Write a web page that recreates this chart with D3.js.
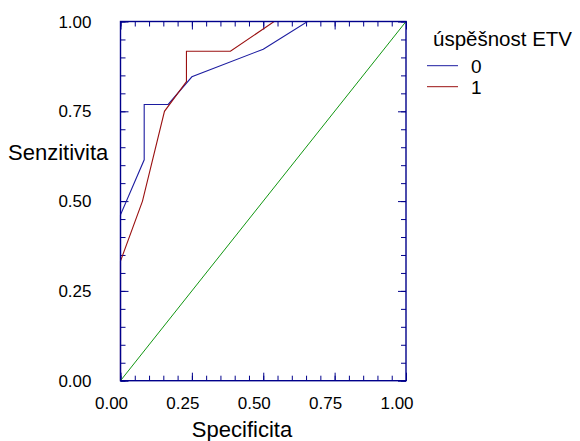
<!DOCTYPE html>
<html>
<head>
<meta charset="utf-8">
<script src="https://cdn.jsdelivr.net/npm/d3@7"></script>
<style>
  body { margin: 0; background: #fff; }
  svg { display: block; font-family: "Liberation Sans", Arial, sans-serif; }
</style>
</head>
<body>
<svg id="chart" width="580" height="441"></svg>
<script>
// ROC curves for two groups plus the reference diagonal
const specGroup0 = [0, 0, 0.083, 0.083, 0.167, 0.25, 0.5, 0.655, 1];
const sensGroup0 = [0, 0.462, 0.615, 0.769, 0.769, 0.846, 0.923, 1, 1];
const specGroup1 = [0, 0, 0.077, 0.154, 0.231, 0.231, 0.385, 0.538, 1];
const sensGroup1 = [0, 0.333, 0.5, 0.75, 0.833, 0.917, 0.917, 1, 1];
const diagonal = [0, 1];
const seriesNames = ['0', '1'];
const tickLabels = [0, 0.25, 0.5, 0.75, 1];

const frameColor = '#00008b';
const colors = ['#1c1ca0', '#9a1010'];
const diagColor = '#119611';

const plotLeft = 120.5, plotRight = 406, plotTop = 21.5, plotBottom = 380.7;

const svg = d3.select('#chart');

const x = d3.scaleLinear().domain([0, 1]).range([plotLeft, plotRight]);
const y = d3.scaleLinear().domain([0, 1]).range([plotBottom, plotTop]);

const minorTicks = d3.range(0, 21).map(i => i / 20);
const majorTicks = tickLabels;

// inward ticks on all four sides
function tickAxis(axisFn, scale, values, size, transform) {
    svg.append('g')
        .attr('transform', transform)
        .call(axisFn(scale).tickValues(values).tickSize(-size).tickFormat('').tickSizeOuter(0))
        .call(g => g.select('.domain').remove())
        .call(g => g.selectAll('line').attr('stroke', frameColor).attr('stroke-width', 1));
}
tickAxis(d3.axisBottom, x, minorTicks, 5, `translate(0,${plotBottom})`);
tickAxis(d3.axisBottom, x, majorTicks, 8, `translate(0,${plotBottom})`);
tickAxis(d3.axisTop, x, minorTicks, 5, `translate(0,${plotTop})`);
tickAxis(d3.axisTop, x, majorTicks, 8, `translate(0,${plotTop})`);
tickAxis(d3.axisLeft, y, minorTicks, 5, `translate(${plotLeft},0)`);
tickAxis(d3.axisLeft, y, majorTicks, 8, `translate(${plotLeft},0)`);
tickAxis(d3.axisRight, y, minorTicks, 5, `translate(${plotRight},0)`);
tickAxis(d3.axisRight, y, majorTicks, 8, `translate(${plotRight},0)`);

// tick labels
const fmt = d3.format('.2f');
svg.append('g')
    .selectAll('text')
    .data(tickLabels)
    .enter()
    .append('text')
    .attr('x', d => x(d) - 9)
    .attr('y', 409)
    .attr('text-anchor', 'middle')
    .attr('font-size', '17px')
    .attr('fill', '#000')
    .text(fmt);

svg.append('g')
    .selectAll('text')
    .data(tickLabels)
    .enter()
    .append('text')
    .attr('x', 91.5)
    .attr('y', d => y(d) + 6)
    .attr('text-anchor', 'end')
    .attr('font-size', '17px')
    .attr('fill', '#000')
    .text(fmt);

// axis titles
svg.append('text')
    .attr('x', 242)
    .attr('y', 436.5)
    .attr('text-anchor', 'middle')
    .attr('font-size', '22px')
    .text('Specificita');

svg.append('text')
    .attr('x', 8)
    .attr('y', 160)
    .attr('font-size', '22px')
    .text('Senzitivita');

// curves
const line = d3.line().x(d => x(d[0])).y(d => y(d[1]));

svg.append('path')
    .datum(d3.zip(diagonal, diagonal))
    .attr('d', line)
    .attr('fill', 'none')
    .attr('stroke', diagColor)
    .attr('stroke-width', 1);

const series = [d3.zip(specGroup0, sensGroup0), d3.zip(specGroup1, sensGroup1)];
series.forEach((s, i) => {
    svg.append('path')
        .datum(s)
        .attr('d', line)
        .attr('fill', 'none')
        .attr('stroke', colors[i])
        .attr('stroke-width', 1.1);
});

// frame
svg.append('rect')
    .attr('x', plotLeft)
    .attr('y', plotTop)
    .attr('width', plotRight - plotLeft)
    .attr('height', plotBottom - plotTop)
    .attr('fill', 'none')
    .attr('stroke', frameColor)
    .attr('stroke-width', 1.4);

// legend
const legend = svg.append('g');
legend.append('text')
    .attr('x', 433)
    .attr('y', 46)
    .attr('font-size', '20.5px')
    .text('úspěšnost ETV');

seriesNames.forEach((name, i) => {
    const ly = 65.7 + i * 21;
    legend.append('line')
        .attr('x1', 427).attr('x2', 458)
        .attr('y1', ly).attr('y2', ly)
        .attr('stroke', colors[i])
        .attr('stroke-width', 1);
    legend.append('text')
        .attr('x', 471)
        .attr('y', ly + 7.5)
        .attr('font-size', '19px')
        .text(name);
});
</script>
</body>
</html>
